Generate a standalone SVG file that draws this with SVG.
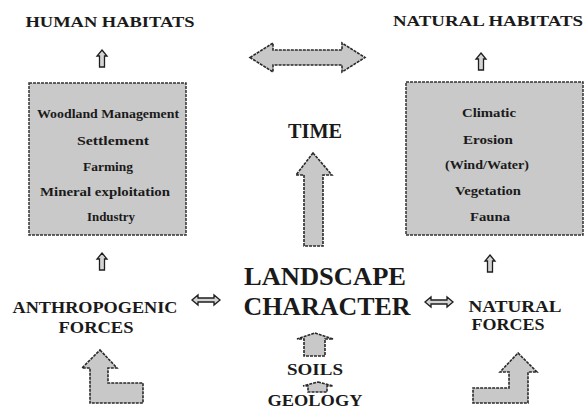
<svg xmlns="http://www.w3.org/2000/svg" width="586" height="409" viewBox="0 0 586 409" font-family="Liberation Serif, DejaVu Serif, serif">
<style>
  text { font-family: "Liberation Serif", "DejaVu Serif", serif; font-weight: bold; fill: #1a1a1a; text-anchor: middle; }
  .h { font-size: 15px; }
  .b { font-size: 12.5px; }
  .f { font-size: 17px; }
  .big { font-size: 25px; }
  .box { fill: #c9c9c9; stroke: #333; stroke-width: 1.5; stroke-dasharray: 3 1; }
  .arr { fill: #c8c8c8; stroke: #2a2a2a; stroke-width: 1.6; stroke-dasharray: 3 1; stroke-linejoin: miter; }
  .sm { fill: #d4d4d4; stroke: #1e1e1e; stroke-width: 1.3; }
</style>
<rect width="586" height="409" fill="#ffffff"/>

<g id="human-habitats">
  <text class="h" x="110" y="27" textLength="169" lengthAdjust="spacingAndGlyphs">HUMAN HABITATS</text>
</g>
<g id="natural-habitats">
  <text class="h" x="488" y="26" textLength="190" lengthAdjust="spacingAndGlyphs">NATURAL HABITATS</text>
</g>

<g id="human-box">
  <rect class="box" x="29" y="83" width="157" height="152"/>
  <text class="b" x="108" y="118" textLength="142" lengthAdjust="spacingAndGlyphs">Woodland Management</text>
  <text class="b" x="113" y="145" textLength="72" lengthAdjust="spacingAndGlyphs">Settlement</text>
  <text class="b" x="108" y="171" textLength="50" lengthAdjust="spacingAndGlyphs">Farming</text>
  <text class="b" x="105" y="196" textLength="130" lengthAdjust="spacingAndGlyphs">Mineral exploitation</text>
  <text class="b" x="111" y="221" textLength="48" lengthAdjust="spacingAndGlyphs">Industry</text>
</g>

<g id="natural-box">
  <rect class="box" x="406" y="82" width="177" height="153"/>
  <text class="b" x="489" y="117" textLength="54" lengthAdjust="spacingAndGlyphs">Climatic</text>
  <text class="b" x="488" y="144" textLength="50" lengthAdjust="spacingAndGlyphs">Erosion</text>
  <text class="b" x="487" y="169" textLength="84" lengthAdjust="spacingAndGlyphs">(Wind/Water)</text>
  <text class="b" x="488" y="195" textLength="66" lengthAdjust="spacingAndGlyphs">Vegetation</text>
  <text class="b" x="490" y="221" textLength="40" lengthAdjust="spacingAndGlyphs">Fauna</text>
</g>

<g id="time">
  <text x="315" y="138" style="font-size:20px" textLength="54" lengthAdjust="spacingAndGlyphs">TIME</text>
</g>

<g id="anthropogenic-forces">
  <text class="f" x="95" y="313" textLength="165" lengthAdjust="spacingAndGlyphs">ANTHROPOGENIC</text>
  <text class="f" x="96" y="333" textLength="75" lengthAdjust="spacingAndGlyphs">FORCES</text>
</g>

<g id="landscape-character">
  <text class="big" x="325" y="285" textLength="162" lengthAdjust="spacingAndGlyphs">LANDSCAPE</text>
  <text class="big" x="327" y="315" textLength="167" lengthAdjust="spacingAndGlyphs">CHARACTER</text>
</g>

<g id="natural-forces">
  <text class="f" x="515" y="312" textLength="93" lengthAdjust="spacingAndGlyphs">NATURAL</text>
  <text class="f" x="508" y="330" textLength="73" lengthAdjust="spacingAndGlyphs">FORCES</text>
</g>

<g id="soils">
  <text class="f" x="315" y="375" textLength="56" lengthAdjust="spacingAndGlyphs">SOILS</text>
</g>
<g id="geology">
  <text class="f" x="315" y="406" textLength="95" lengthAdjust="spacingAndGlyphs">GEOLOGY</text>
</g>

<g id="connectors">
  <path class="sm" d="M102,50 L107,56 L104.5,56 L104.5,67 L99.5,67 L99.5,56 L97,56 Z"/>
  <path class="sm" d="M481,53 L486,59 L483.5,59 L483.5,70 L478.5,70 L478.5,59 L476,59 Z"/>
  <path class="sm" d="M102,253 L107,259 L104.5,259 L104.5,270 L99.5,270 L99.5,259 L97,259 Z"/>
  <path class="sm" d="M490,255 L495,261 L492.5,261 L492.5,272 L487.5,272 L487.5,261 L485,261 Z"/>
  <path class="arr" d="M250,57.5 L273,43 L273,50 L342,50 L342,43 L365,57.5 L342,72 L342,65 L273,65 L273,72 Z"/>
  <path class="arr" d="M313,153 L332,175 L323,175 L323,246 L304,246 L304,175 L296,175 Z"/>
  <path class="sm" d="M192,300 L198,295 L198,298 L214,298 L214,295 L220,300 L214,305 L214,302 L198,302 L198,305 Z"/>
  <path class="sm" d="M425,302 L431,297 L431,300 L447,300 L447,297 L453,302 L447,307 L447,304 L431,304 L431,307 Z"/>
  <path class="arr" d="M315,333 L333,339 L325,339 L325,356 L304,356 L304,339 L297,339 Z"/>
  <path class="arr" d="M318,382 L333,386 L327,386 L327,392 L308,392 L308,386 L303,386 Z"/>
  <path class="arr" d="M100,350 L117,368 L108,368 L108,383 L143,383 L143,403 L90,403 L90,368 L82,368 Z"/>
  <path class="arr" d="M518,353 L537,372 L528,372 L528,403 L473,403 L473,388 L509,388 L509,372 L500,372 Z"/>
</g>
</svg>
